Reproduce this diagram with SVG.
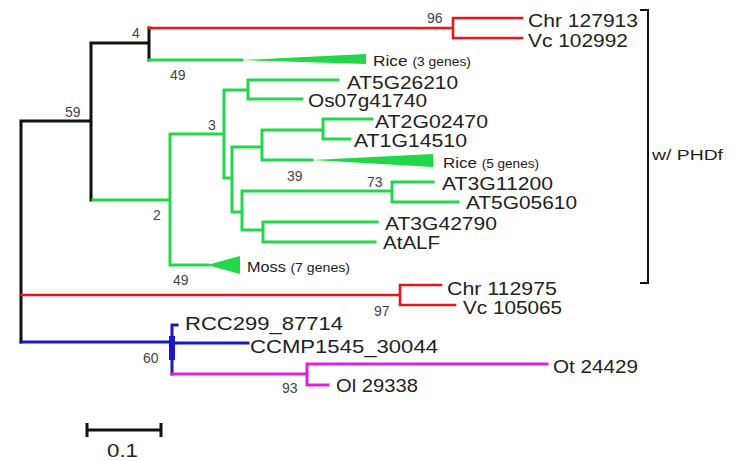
<svg xmlns="http://www.w3.org/2000/svg" width="733" height="461" viewBox="0 0 733 461">
<style>
.br{fill:none;stroke-width:3;stroke-linecap:square}
.k{stroke:#111}.r{stroke:#e8141e;stroke-width:2.6}.g{stroke:#22d84a}.b{stroke:#1818c8}.m{stroke:#dd22dd}
.lab{font-family:"Liberation Sans",Arial,sans-serif;font-size:18.5px;fill:#222}
.sm{font-family:"Liberation Sans",Arial,sans-serif;font-size:15px;fill:#222}
.bs{font-family:"Liberation Sans",Arial,sans-serif;font-size:14px;fill:#444}
.tri{fill:#22d84a}
</style>
<rect width="733" height="461" fill="#fff"/>
<g id="connectors">
<path class="br k" d="M21,121V342M21,121H91M91,43V200M91,43H149M149,28V60"/>
<path class="br r" d="M149,28H453M453,18V38M453,18H522M453,38H522M21,295H400M400,285V305M400,285H441M400,305H455"/>
<path class="br g" d="M149,60H242M93,200H170M170,134V265M170,134H224M224,90V178M224,90H248M248,80V99M248,80H338M248,99H302M224,178H232M232,147V212M232,147H262M262,130V160M262,130H323M323,119V139M323,119H372M323,139H350M262,160H312M232,212H242M242,191V230M242,191H392M392,182V202M392,182H433M392,202H458M242,230H263M263,222V242M263,222H377M263,242H375M170,265H208"/>
<path class="br b" d="M21,342H172M172,325V374M172,325H177M172,343H248"/>
<rect x="169" y="336" width="6" height="24" fill="#1818c8"/>
<path class="br m" d="M172,374H307M307,364V385M307,364H547M307,385H328"/>
</g>
<g id="n96"><text class="bs" x="427" y="23">96</text></g>
<g id="n4"><text class="bs" x="132" y="38">4</text></g>
<g id="n49a"><text class="bs" x="170" y="80">49</text></g>
<g id="n59"><text class="bs" x="65" y="117">59</text></g>
<g id="n3"><text class="bs" x="208" y="130">3</text></g>
<g id="n2"><text class="bs" x="153" y="220">2</text></g>
<g id="n49b"><text class="bs" x="173" y="285">49</text></g>
<g id="n39"><text class="bs" x="287" y="181">39</text></g>
<g id="n73"><text class="bs" x="367" y="187">73</text></g>
<g id="n97"><text class="bs" x="374" y="316">97</text></g>
<g id="n60"><text class="bs" x="143" y="363">60</text></g>
<g id="n93"><text class="bs" x="282" y="393">93</text></g>
<g id="chr127913"><text class="lab" x="528" y="27" textLength="110" lengthAdjust="spacingAndGlyphs">Chr 127913</text></g>
<g id="vc102992"><text class="lab" x="528" y="47" textLength="100" lengthAdjust="spacingAndGlyphs">Vc 102992</text></g>
<g id="rice3"><polygon class="tri" points="242,60 366,54 366,64"/><text class="sm" x="373" y="66" textLength="98" lengthAdjust="spacingAndGlyphs">Rice <tspan font-size="12">(3 genes)</tspan></text></g>
<g id="at5g26210"><text class="lab" x="347" y="89" textLength="111" lengthAdjust="spacingAndGlyphs">AT5G26210</text></g>
<g id="os07g41740"><text class="lab" x="308" y="107" textLength="119" lengthAdjust="spacingAndGlyphs">Os07g41740</text></g>
<g id="at2g02470"><text class="lab" x="375" y="128" textLength="113" lengthAdjust="spacingAndGlyphs">AT2G02470</text></g>
<g id="at1g14510"><text class="lab" x="354" y="147" textLength="113" lengthAdjust="spacingAndGlyphs">AT1G14510</text></g>
<g id="rice5"><polygon class="tri" points="312,160 433,154 433,167"/><text class="sm" x="443" y="168" textLength="96" lengthAdjust="spacingAndGlyphs">Rice <tspan font-size="12">(5 genes)</tspan></text></g>
<g id="at3g11200"><text class="lab" x="442" y="190" textLength="111" lengthAdjust="spacingAndGlyphs">AT3G11200</text></g>
<g id="at5g05610"><text class="lab" x="466" y="209" textLength="111" lengthAdjust="spacingAndGlyphs">AT5G05610</text></g>
<g id="at3g42790"><text class="lab" x="385" y="230" textLength="112" lengthAdjust="spacingAndGlyphs">AT3G42790</text></g>
<g id="atalf"><text class="lab" x="383" y="249" textLength="57" lengthAdjust="spacingAndGlyphs">AtALF</text></g>
<g id="moss"><polygon class="tri" points="207,265 240,256 240,274"/><text class="sm" x="247" y="272" textLength="103" lengthAdjust="spacingAndGlyphs">Moss <tspan font-size="13">(7 genes)</tspan></text></g>
<g id="chr112975"><text class="lab" x="447" y="295" textLength="110" lengthAdjust="spacingAndGlyphs">Chr 112975</text></g>
<g id="vc105065"><text class="lab" x="463" y="314" textLength="99" lengthAdjust="spacingAndGlyphs">Vc 105065</text></g>
<g id="rcc299"><text class="lab" x="185" y="330" textLength="158" lengthAdjust="spacingAndGlyphs">RCC299_87714</text></g>
<g id="ccmp1545"><text class="lab" x="250" y="353" textLength="188" lengthAdjust="spacingAndGlyphs">CCMP1545_30044</text></g>
<g id="ot24429"><text class="lab" x="553" y="373" textLength="85" lengthAdjust="spacingAndGlyphs">Ot 24429</text></g>
<g id="ol29338"><text class="lab" x="336" y="392" textLength="82" lengthAdjust="spacingAndGlyphs">Ol 29338</text></g>
<g id="bracket"><path d="M640,10H648V283H640" fill="none" stroke="#111" stroke-width="2"/><text class="sm" x="652" y="160" textLength="71" lengthAdjust="spacingAndGlyphs">w/ PHDf</text></g>
<g id="scalebar"><path d="M87,430H161M87,423V437M161,423V437" fill="none" stroke="#111" stroke-width="3"/><text class="lab" x="107" y="457" font-size="19" textLength="31" lengthAdjust="spacingAndGlyphs">0.1</text></g>
</svg>
